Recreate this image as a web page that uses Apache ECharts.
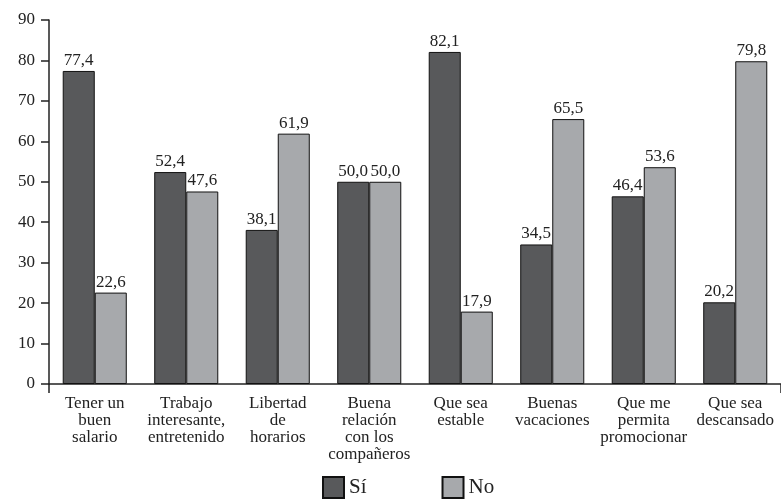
<!DOCTYPE html>
<html>
<head>
<meta charset="utf-8">
<script src="https://cdn.jsdelivr.net/npm/echarts@6/dist/echarts.min.js"></script>
<style>
  html, body { margin: 0; padding: 0; background: #fff; }
  #main { width: 781px; height: 501px; }
</style>
</head>
<body>
<div id="main"></div>
<script>
// categorias
var categorias = [
    'Tener un\nbuen\nsalario',
    'Trabajo\ninteresante,\nentretenido',
    'Libertad\nde\nhorarios',
    'Buena\nrelación\ncon los\ncompañeros',
    'Que sea\nestable',
    'Buenas\nvacaciones',
    'Que me\npermita\npromocionar',
    'Que sea\ndescansado'
];
// valores
var si = [77.4, 52.4, 38.1, 50.0, 82.1, 34.5, 46.4, 20.2];
var no = [22.6, 47.6, 61.9, 50.0, 17.9, 65.5, 53.6, 79.8];

var fuente = '"Liberation Serif", "DejaVu Serif", serif';

var myChart = echarts.init(document.getElementById('main'));

function etiqueta(p) {
    return p.value.toFixed(1).replace('.', ',');
}

var option = {
    backgroundColor: '#fff',
    animation: false,
    textStyle: { fontFamily: fuente },
    grid: { left: 49, right: -2, top: 20, bottom: 117 },
    legend: {
        bottom: -3,
        left: 317,
        icon: 'rect',
        itemWidth: 21,
        itemHeight: 21,
        itemGap: 75,
        textStyle: { fontFamily: fuente, fontSize: 21, color: '#222' },
        data: ['Sí', 'No']
    },
    xAxis: {
        type: 'category',
        data: categorias,
        axisLine: { lineStyle: { color: '#222', width: 1.5 } },
        axisTick: {
            show: true,
            length: 9,
            interval: function (i) { return i === 0; },
            lineStyle: { color: '#222', width: 1.5 }
        },
        axisLabel: {
            interval: 0,
            margin: 11,
            fontFamily: fuente,
            fontSize: 17,
            lineHeight: 17,
            color: '#222'
        }
    },
    yAxis: {
        type: 'value',
        min: 0,
        max: 90,
        interval: 10,
        splitLine: { show: false },
        axisLine: { show: true, lineStyle: { color: '#222', width: 1.5 } },
        axisTick: { show: true, length: 8, lineStyle: { color: '#222', width: 1.5 } },
        axisLabel: { margin: 14, fontFamily: fuente, fontSize: 17, color: '#222' }
    },
    series: [
        {
            name: 'Sí',
            type: 'bar',
            data: si,
            barGap: '0%',
            barCategoryGap: '30%',
            itemStyle: { color: '#58595b', borderColor: '#111', borderWidth: 1 },
            label: { show: true, position: 'top', distance: 2, formatter: etiqueta, fontFamily: fuente, fontSize: 17, color: '#222' }
        },
        {
            name: 'No',
            type: 'bar',
            data: no,
            itemStyle: { color: '#a7a9ac', borderColor: '#111', borderWidth: 1 },
            label: { show: true, position: 'top', distance: 2, formatter: etiqueta, fontFamily: fuente, fontSize: 17, color: '#222' }
        }
    ]
};

myChart.setOption(option);
</script>
</body>
</html>
